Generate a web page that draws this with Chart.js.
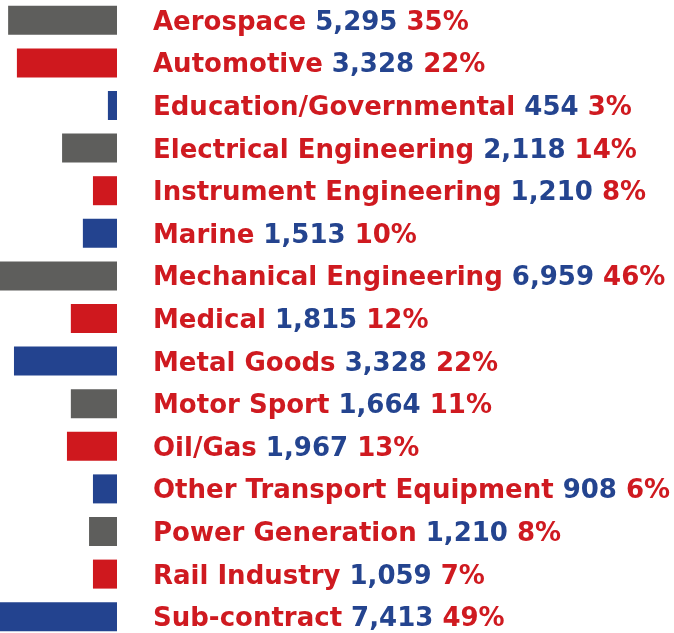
<!DOCTYPE html>
<html>
<head>
<meta charset="utf-8">
<script src="https://cdn.jsdelivr.net/npm/chart.js@4/dist/chart.umd.min.js"></script>
<style>
  html, body { margin: 0; padding: 0; background: #fff; overflow: hidden; }
  #wrap { position: absolute; left: 0; top: -1px; width: 674px; height: 639px; }
</style>
</head>
<body>
<div id="wrap"><canvas id="chart" width="674" height="639"></canvas></div>
<script>
// sectors, company counts and shares as printed next to each bar
const sectors = [
  'Aerospace', 'Automotive', 'Education/Governmental', 'Electrical Engineering',
  'Instrument Engineering', 'Marine', 'Mechanical Engineering', 'Medical',
  'Metal Goods', 'Motor Sport', 'Oil/Gas', 'Other Transport Equipment',
  'Power Generation', 'Rail Industry', 'Sub-contract'
];
const counts = ['5,295', '3,328', '454', '2,118', '1,210', '1,513', '6,959', '1,815',
                '3,328', '1,664', '1,967', '908', '1,210', '1,059', '7,413'];
const shares = ['35%', '22%', '3%', '14%', '8%', '10%', '46%', '12%',
                '22%', '11%', '13%', '6%', '8%', '7%', '49%'];

// bar lengths as drawn in the source (in % units; the original isn't strictly proportional)
const barLengths = [33.5, 30.8, 2.8, 16.9, 7.4, 10.5, 46, 14.2, 31.7, 14.2, 15.4, 7.4, 8.6, 7.4, 49];

const palette = ['#5e5e5c', '#cf181e', '#23438f'];
const textRed = '#cf1a20';
const textBlue = '#24448f';

// draws "Name count share" to the right of every bar
const labelPlugin = {
  id: 'rowLabels',
  afterDatasetsDraw(chart) {
    const ctx = chart.ctx;
    const meta = chart.getDatasetMeta(0);
    ctx.save();
    ctx.font = 'bold 26px "DejaVu Sans"';
    ctx.textBaseline = 'alphabetic';
    meta.data.forEach((bar, i) => {
      const y = bar.y + 9.5;
      let x = chart.chartArea.right + 36;
      const parts = [
        [sectors[i] + ' ', textRed],
        [counts[i] + ' ', textBlue],
        [shares[i], textRed]
      ];
      parts.forEach(([txt, col]) => {
        ctx.fillStyle = col;
        ctx.fillText(txt, x, y);
        x += ctx.measureText(txt).width;
      });
    });
    ctx.restore();
  }
};

new Chart(document.getElementById('chart'), {
  type: 'bar',
  data: {
    labels: sectors,
    datasets: [{
      data: barLengths,
      backgroundColor: sectors.map((s, i) => palette[i % 3]),
      borderWidth: 0,
      categoryPercentage: 1,
      barPercentage: 0.681
    }]
  },
  options: {
    indexAxis: 'y',
    responsive: false,
    animation: false,
    layout: { padding: { left: 0, right: 557, top: 0, bottom: 0 } },
    plugins: { legend: { display: false }, tooltip: { enabled: false } },
    scales: {
      x: { display: false, reverse: true, min: 0, max: 36 },
      y: { display: false }
    }
  },
  plugins: [labelPlugin]
});
</script>
</body>
</html>
